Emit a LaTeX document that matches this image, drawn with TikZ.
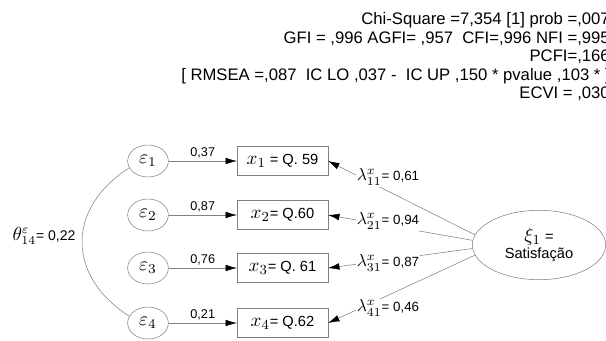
\documentclass[tikz,border=0pt]{standalone}
\usepackage{fontspec}
\setmainfont{Liberation Sans}
\usetikzlibrary{arrows.meta,shapes.geometric}
\newcommand\mbig[1]{\scalebox{1.3}{$#1$}}

\begin{document}
\begin{tikzpicture}[x=0.75pt,y=-0.75pt,
    err/.style={ellipse,draw=gray,minimum width=30.5pt,minimum height=24pt,inner sep=0pt,
      font=\fontsize{10}{12}\selectfont},
    obs/.style={rectangle,draw=gray,minimum width=68pt,minimum height=21.5pt,inner sep=0pt,
      font=\fontsize{11}{13}\selectfont},
    lat/.style={ellipse,draw=gray,minimum width=100pt,minimum height=52pt,inner sep=0pt,
      align=center,font=\fontsize{11}{13}\selectfont},
    arr/.style={draw=gray,-{Latex[length=8.5pt,width=5pt,color=black]}},
    val/.style={font=\fontsize{9.5}{11}\selectfont,inner sep=2pt},
    lam/.style={fill=white,inner sep=1pt,font=\fontsize{10}{12}\selectfont}]
  \useasboundingbox (0,0) rectangle (606,340);

  \node [anchor=north east,align=right,inner sep=0pt,font=\fontsize{12.5}{13.9}\selectfont] (stats) at (610,12.5)
    {Chi-Square =7,354 [1] prob =,007\\
     GFI = ,996 AGFI= ,957\ \ CFI=,996 NFI =,995\\
     PCFI=,166\\
     {[} RMSEA =,087\ \ IC LO ,037 -\ \ IC UP ,150 * pvalue ,103 * ]\\
     ECVI = ,030};

  \foreach \i/\y/\v/\t in {1/161/{0,37}/{\mbig{x_1} = Q. 59},2/215/{0,87}/{\mbig{x_2}= Q.60},
                            3/268/{0,76}/{\mbig{x_3}= Q. 61},4/323/{0,21}/{\mbig{x_4}= Q.62}}{
    \node [err] (e\i) at (148,\y) {\scalebox{1.45}{$\varepsilon_\i$}};
    \node [obs] (x\i) at (282.5,\y) {\t};
    \draw [arr] (e\i) -- node [val,above] {\v} (x\i);
  }

  \node [lat] (ksi) at (539,245) {\mbig{\xi_1} =\\Satisfação};

  \foreach \i/\a/\y/\v in {1/171/177/{0,61},2/176/221/{0,94},3/183/263/{0,87},4/189/308/{0,46}}{
    \draw [arr] (ksi.\a) -- (x\i.east);
    \node [lam] (l\i) at (388,\y) {\mbig{\lambda^x_{\i1}}= \v};
  }

  \draw [gray] (e1.200) .. controls +(-63,40) and +(-63,-40) .. (e4.160);
  \node [font=\fontsize{10.5}{12}\selectfont] (th) at (44,236) {\mbig{\theta^\varepsilon_{14}}= 0,22};
\end{tikzpicture}
\end{document}
